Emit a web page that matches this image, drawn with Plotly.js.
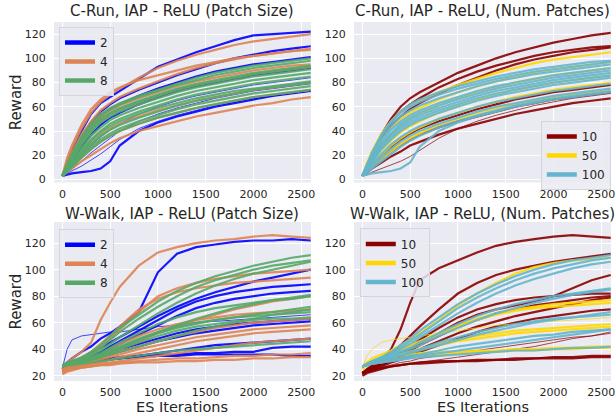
<!DOCTYPE html>
<html><head><meta charset="utf-8">
<script src="https://cdn.plot.ly/plotly-3.0.1.min.js"></script>
<style>html,body{margin:0;padding:0;background:#fff}#chart{width:616px;height:416px}</style>
</head><body><div id="chart"></div>
<script>
const iterations = [0,50,100,200,300,400,500,600,800,1000,1200,1400,1600,1800,2000,2200,2400,2600];

const panelTitles = ["C-Run, IAP - ReLU (Patch Size)", "C-Run, IAP - ReLU, (Num. Patches)",
                     "W-Walk, IAP - ReLU (Patch Size)", "W-Walk, IAP - ReLU, (Num. Patches)"];
const patchSizeLabels = ["2", "4", "8"];
const numPatchLabels = ["10", "50", "100"];
const yTickVals = [0, 20, 40, 60, 80, 100, 120];
const xTickVals = [0, 500, 1000, 1500, 2000, 2500];

// C-Run, patch size
const crunPS2 = [
 [3,14,24,40,54,63,68,73,83,93,99,105,110,115,119,120,121,122],
 [3,12,20,35,47,56,62,67,74,80,86,91,96,100,103,106,108,110],
 [3,11,19,33,44,52,58,62,69,75,80,85,89,92,95,97,99,101],
 [3,9,15,27,37,45,51,55,62,68,73,77,80,83,86,88,90,92],
 [3,4,5,6,7,9,15,28,40,47,52,56,60,63,66,69,71,73]];
const crunPS2Thin = [
 [3,5,7,11,16,21,27,33,42,48,53,57,61,64,67,69,71,73],
 [3,6,9,15,22,28,34,40,48,54,59,63,67,70,73,75,77,79],
 [3,7,12,20,28,35,41,46,54,60,65,69,72,75,78,80,82,84]];
const crunPS4 = [
 [3,16,26,42,55,64,70,75,84,92,98,103,107,111,114,116,118,120],
 [3,13,22,37,48,57,63,68,75,81,87,92,96,99,102,104,106,108],
 [3,18,28,45,58,66,72,76,82,86,90,94,97,100,102,104,106,107],
 [3,12,20,34,44,52,57,61,67,72,77,81,84,87,90,92,94,95],
 [3,10,17,30,40,48,54,58,64,69,74,78,81,84,87,89,91,93],
 [3,8,13,22,30,37,42,46,52,57,61,65,68,71,74,76,78,80],
 [3,7,11,18,25,31,36,40,46,51,55,59,62,65,68,70,72,74],
 [3,6,9,15,20,25,30,34,40,44,48,52,55,58,61,63,66,68]];
const crunPS8 = [
 [3,13,21,35,46,54,59,63,69,74,79,84,88,91,94,96,98,100],
 [3,12,20,34,45,53,58,62,68,73,78,82,86,89,92,94,96,98],
 [3,11,19,32,42,50,55,59,65,70,75,79,82,85,88,90,92,94],
 [3,11,18,31,41,49,54,58,64,69,74,78,81,84,87,89,91,93],
 [3,10,17,29,39,47,52,56,62,67,72,76,79,82,85,87,89,91],
 [3,9,15,26,36,43,49,53,59,64,69,73,76,79,82,84,86,88],
 [3,8,14,24,33,40,46,50,56,61,66,70,73,76,79,81,83,85],
 [3,8,13,23,32,39,44,48,54,59,63,67,70,73,75,77,79,81],
 [3,7,12,21,29,36,41,45,51,56,61,65,68,71,74,76,78,80],
 [3,7,11,19,27,33,38,42,48,53,58,62,65,68,71,73,75,77],
 [3,6,10,18,25,31,36,40,46,51,55,59,62,65,68,70,72,74]];

// C-Run, number of patches
const crunNP10 = [
 [3,13,22,37,50,60,67,72,80,88,94,100,105,109,113,116,119,121],
 [3,12,20,35,47,56,62,67,76,83,89,94,98,102,105,107,109,110],
 [3,12,19,33,44,52,58,63,71,78,84,90,95,99,102,105,107,109],
 [3,8,12,20,27,33,38,42,48,53,58,62,66,69,72,74,76,78],
 [3,7,10,17,23,28,33,37,43,48,52,56,60,63,66,68,70,72],
 [3,6,9,14,19,23,28,31,37,42,46,50,54,57,60,63,65,67]];
const crunNP10Thin = [
 [3,4,6,9,12,15,19,24,34,42,48,53,57,61,64,67,69,71]];
const crunNP50 = [
 [3,14,23,38,48,56,61,65,72,78,83,88,92,96,99,101,103,105],
 [3,12,19,32,42,50,55,59,66,72,77,81,85,88,91,93,95,97],
 [3,10,16,27,36,44,50,54,61,67,72,76,80,83,86,88,90,92],
 [3,9,14,24,32,39,44,48,55,61,66,70,74,77,80,82,84,86],
 [3,8,12,20,28,34,39,43,50,55,60,64,68,71,74,76,78,80],
 [3,7,10,17,23,29,34,38,45,50,55,59,62,65,68,70,72,74]];
const crunNP100 = [
 [3,13,22,37,48,56,62,66,72,77,81,85,88,91,93,95,97,98],
 [3,12,21,36,47,55,60,64,70,75,79,83,86,89,91,93,95,97],
 [3,12,20,34,44,52,57,61,67,72,77,81,84,87,89,91,93,95],
 [3,11,18,31,41,48,53,57,63,68,73,77,80,83,86,88,90,92],
 [3,11,17,29,38,46,51,55,61,66,71,75,78,81,84,86,88,90],
 [3,10,16,28,37,44,49,53,59,64,69,73,76,79,82,84,86,88],
 [3,10,15,26,35,42,47,51,57,62,67,71,74,77,80,82,84,86],
 [3,9,14,25,33,40,45,49,55,60,65,69,72,75,78,80,82,84],
 [3,8,12,21,29,35,40,44,50,55,60,64,67,70,73,75,77,79],
 [3,7,10,18,25,31,36,40,46,51,56,60,63,66,69,71,73,75],
 [3,6,9,15,21,27,32,36,43,48,53,57,61,64,67,69,71,73],
 [3,4,5,6,7,9,14,27,40,47,52,56,60,63,66,68,70,72]];

// W-Walk, patch size
const wwalkPS2 = [
 [25,30,33,38,42,48,52,57,68,98,112,117,119,121,122,122,123,122],
 [26,28,30,33,37,41,45,49,57,65,72,78,83,87,91,94,97,100],
 [26,28,30,32,35,38,42,46,54,62,70,76,80,83,85,87,88,89],
 [26,28,29,31,34,37,40,44,51,58,65,71,75,78,80,82,83,84],
 [26,28,29,31,33,35,37,40,44,48,52,55,57,59,60,61,62,63],
 [26,27,28,30,32,34,36,38,42,46,49,52,54,56,58,59,60,61],
 [26,27,28,29,30,31,32,33,35,37,39,41,43,44,45,46,47,48],
 [26,28,29,30,31,32,33,33,34,35,35,36,36,36,36,36,35,35],
 [26,28,29,30,31,32,33,34,35,36,36,37,37,38,38,41,42,42]];
const wwalkPS2Thin = [
 [26,40,47,50,51,52,53,53,55,57,58,60,61,62,63,64,65,66]];
const wwalkPS4 = [
 [25,30,33,38,45,62,75,87,103,113,117,120,122,123,125,126,125,124],
 [24,27,29,32,36,41,48,55,68,80,86,90,93,95,97,98,99,100],
 [24,27,29,33,38,44,50,57,70,78,83,86,88,90,91,92,93,94],
 [24,26,27,29,31,34,37,40,46,52,57,62,66,70,73,76,78,80],
 [24,26,28,30,33,36,40,44,50,55,59,62,64,66,67,68,69,70],
 [24,26,27,29,31,33,35,38,42,46,50,53,56,58,60,61,62,63],
 [23,25,26,28,30,32,34,36,40,43,46,49,51,53,55,56,57,58],
 [23,25,26,27,29,30,32,34,37,40,43,46,48,50,52,53,54,55],
 [22,24,25,27,28,29,30,31,33,35,37,39,41,43,45,46,47,48],
 [22,24,25,26,27,28,29,30,31,32,33,33,34,35,35,36,36,37],
 [21,23,24,26,27,28,28,29,30,30,31,31,32,32,33,33,34,34]];
const wwalkPS8 = [
 [28,30,31,34,38,43,50,56,66,76,84,90,95,99,103,106,109,111],
 [28,30,31,33,37,41,47,53,63,72,80,87,92,96,100,103,105,107],
 [28,29,30,32,35,39,44,49,58,67,75,82,88,93,97,100,103,106],
 [27,29,30,31,33,35,38,41,47,53,58,63,67,71,74,77,79,81],
 [27,29,30,32,34,37,41,45,52,59,64,68,71,73,75,77,78,80],
 [27,28,29,31,33,35,38,41,47,52,56,59,62,64,66,68,70,72],
 [27,28,29,30,32,34,36,38,42,46,50,54,57,60,63,66,68,70],
 [27,28,29,31,33,36,39,42,48,53,57,60,62,64,65,66,67,68],
 [27,28,29,30,32,34,37,40,45,50,54,57,59,61,62,63,63,64],
 [27,28,28,29,30,31,32,33,35,37,39,40,41,42,43,44,45,46]];

// W-Walk, number of patches
const wwalkNP10 = [
 [22,25,27,32,40,55,75,92,101,107,113,118,121,123,125,126,125,124],
 [22,25,28,32,37,43,50,57,70,82,90,96,100,103,106,108,110,112],
 [22,24,26,29,32,36,40,44,52,60,66,70,73,76,80,86,92,96],
 [22,24,26,29,33,37,42,47,56,64,70,74,77,79,80,81,82,82],
 [22,24,26,29,32,35,39,43,50,57,62,67,70,73,75,77,79,80],
 [22,24,25,28,31,34,37,40,46,52,57,61,65,68,71,74,77,79],
 [22,24,25,27,30,32,35,38,43,48,53,57,60,63,65,67,69,70],
 [21,23,24,26,27,28,29,30,31,31,32,32,33,33,34,34,35,35],
 [20,22,23,25,27,28,29,29,30,31,31,32,32,33,33,33,34,34]];
const wwalkNP10Thin = [
 [22,23,24,26,28,30,31,33,35,37,39,41,43,45,47,49,50,52],
 [22,23,24,25,27,28,29,30,32,34,36,38,40,42,45,48,50,53]];
const wwalkNP50 = [
 [26,30,33,36,39,43,47,52,62,73,82,90,97,102,105,107,108,109],
 [26,29,31,34,37,40,43,46,52,58,63,67,70,72,74,75,76,77],
 [26,28,30,33,36,39,42,45,51,57,62,66,69,71,72,73,74,75],
 [25,28,30,32,34,36,38,40,44,47,50,52,54,55,56,57,58,59],
 [26,28,30,32,34,36,38,40,43,46,48,50,52,53,54,55,56,57],
 [27,29,30,31,32,33,34,35,36,37,38,38,39,39,40,40,41,41],
 [27,30,31,33,34,35,36,37,38,38,39,39,40,40,41,41,42,42]];
const wwalkNP50Thin = [
 [26,35,40,45,47,48,49,50,52,54,56,58,59,60,61,62,63,64]];
const wwalkNP100 = [
 [27,29,31,34,38,43,48,54,64,74,82,89,95,100,104,107,109,111],
 [27,29,31,34,37,41,46,51,61,71,79,86,92,97,101,104,107,109],
 [27,29,30,33,36,40,44,49,58,67,75,82,88,93,97,101,104,106],
 [27,28,30,32,35,38,41,45,52,59,65,70,74,77,80,82,84,86],
 [27,28,30,32,34,37,40,43,50,56,62,67,71,75,78,81,83,85],
 [27,28,29,31,33,35,37,39,43,47,51,54,57,60,62,64,66,68],
 [27,28,29,31,33,35,38,40,45,49,53,56,59,61,63,64,65,66],
 [27,28,29,30,32,33,35,36,39,42,44,46,48,50,51,53,54,55],
 [27,28,29,30,31,32,34,35,37,39,41,43,45,47,49,51,53,55],
 [27,28,29,30,31,32,33,34,35,36,37,38,39,39,40,41,41,42]];

const C = {blue:"#0000FF", orange:"#DD8452", green:"#55A868",
           red:"#8B0000", gold:"#FFD700", cyan:"#64B5CD"};

const traces = [];
function addRuns(runs, color, width, ax, ay) {
  runs.forEach(r => traces.push({x: iterations, y: r, type: "scatter", mode: "lines",
    line: {color: color, width: width}, opacity: 0.9, showlegend: false,
    hoverinfo: "skip", xaxis: ax, yaxis: ay}));
}
function addLegend(name, color, ax, ay, leg) {
  traces.push({x: [null], y: [null], type: "scatter", mode: "lines", name: name,
    line: {color: color, width: 4.5}, showlegend: true, legend: leg, xaxis: ax, yaxis: ay});
}
const W = 2.2, WT = 0.8;
// Panel 1
addRuns(crunPS2, C.blue, W, "x", "y"); addRuns(crunPS2Thin, C.blue, WT, "x", "y");
addRuns(crunPS4, C.orange, W, "x", "y");
addRuns(crunPS8, C.green, W, "x", "y");
addLegend(patchSizeLabels[0], C.blue, "x", "y", "legend");
addLegend(patchSizeLabels[1], C.orange, "x", "y", "legend");
addLegend(patchSizeLabels[2], C.green, "x", "y", "legend");
// Panel 2
addRuns(crunNP10, C.red, W, "x2", "y2"); addRuns(crunNP10Thin, C.red, WT, "x2", "y2");
addRuns(crunNP50, C.gold, W, "x2", "y2");
addRuns(crunNP100, C.cyan, W, "x2", "y2");
addLegend(numPatchLabels[0], C.red, "x2", "y2", "legend2");
addLegend(numPatchLabels[1], C.gold, "x2", "y2", "legend2");
addLegend(numPatchLabels[2], C.cyan, "x2", "y2", "legend2");
// Panel 3
addRuns(wwalkPS2, C.blue, W, "x3", "y3"); addRuns(wwalkPS2Thin, C.blue, WT, "x3", "y3");
addRuns(wwalkPS4, C.orange, W, "x3", "y3");
addRuns(wwalkPS8, C.green, W, "x3", "y3");
addLegend(patchSizeLabels[0], C.blue, "x3", "y3", "legend3");
addLegend(patchSizeLabels[1], C.orange, "x3", "y3", "legend3");
addLegend(patchSizeLabels[2], C.green, "x3", "y3", "legend3");
// Panel 4
addRuns(wwalkNP10, C.red, W, "x4", "y4"); addRuns(wwalkNP10Thin, C.red, WT, "x4", "y4");
addRuns(wwalkNP50, C.gold, W, "x4", "y4"); addRuns(wwalkNP50Thin, C.gold, WT, "x4", "y4");
addRuns(wwalkNP100, C.cyan, W, "x4", "y4");
addLegend(numPatchLabels[0], C.red, "x4", "y4", "legend4");
addLegend(numPatchLabels[1], C.gold, "x4", "y4", "legend4");
addLegend(numPatchLabels[2], C.cyan, "x4", "y4", "legend4");

const FONT = "DejaVu Sans, sans-serif";
const TXT = "#262626";
const xDomL = [0, 0.4614], xDomR = [0.5386, 1];
const yDomT = [0.553, 1], yDomB = [0, 0.443];
function xa(dom, anchor) {
  return {domain: dom, anchor: anchor, range: [-88, 2603], tickvals: xTickVals,
    showgrid: true, gridcolor: "#ffffff", gridwidth: 1, zeroline: false, showline: false,
    ticks: "outside", ticklen: 1, tickcolor: "rgba(0,0,0,0)",
    tickfont: {family: FONT, size: 11, color: TXT}};
}
function ya(dom, anchor, range) {
  return {domain: dom, anchor: anchor, range: range, tickvals: yTickVals,
    showgrid: true, gridcolor: "#ffffff", gridwidth: 1, zeroline: false, showline: false,
    ticks: "outside", ticklen: 5, tickcolor: "rgba(0,0,0,0)",
    tickfont: {family: FONT, size: 11, color: TXT}};
}
function leg(x, y) {
  return {x: x, y: y, xanchor: "left", yanchor: "top", bgcolor: "rgba(234,234,242,0.85)",
    bordercolor: "#d4d4dc", borderwidth: 1, itemwidth: 30, tracegroupgap: 0,
    font: {family: FONT, size: 12, color: TXT}};
}
function title(text, x, y, shift) {
  return {text: text, xref: "paper", yref: "paper", x: x, y: y, xanchor: "center",
    yanchor: "bottom", yshift: shift, showarrow: false, font: {family: FONT, size: 15, color: TXT}};
}
function xTitle(x) {
  return {text: "ES Iterations", xref: "paper", yref: "paper", x: x, y: -0.0975, yanchor: "bottom",
    borderpad: 0, showarrow: false, xanchor: "center", font: {family: FONT, size: 14.5, color: TXT}};
}
const layout = {
  width: 616, height: 416, margin: {l: 54, r: 5, t: 22, b: 35},
  paper_bgcolor: "#ffffff", plot_bgcolor: "#EAEAF2",
  xaxis: xa(xDomL, "y"), yaxis: ya(yDomT, "x", [-2.5, 130]),
  xaxis2: xa(xDomR, "y2"), yaxis2: ya(yDomT, "x2", [-2.5, 130]),
  xaxis3: xa(xDomL, "y3"), yaxis3: ya(yDomB, "x3", [16, 136]),
  xaxis4: xa(xDomR, "y4"), yaxis4: ya(yDomB, "x4", [16, 136]),
  legend: leg(0.009, 0.986), legend2: leg(0.874, 0.724),
  legend3: leg(0.009, 0.423), legend4: leg(0.549, 0.425),
  annotations: [
    title(panelTitles[0], 0.2307, 1, 0), title(panelTitles[1], 0.7693, 1, 0),
    title(panelTitles[2], 0.2307, 0.443, -3), title(panelTitles[3], 0.7693, 0.443, -3),
    {text: "Reward", xref: "paper", yref: "paper", x: -0.068, y: 0.7765, textangle: -90,
     showarrow: false, xanchor: "center", yanchor: "middle", font: {family: FONT, size: 15, color: TXT}},
    {text: "Reward", xref: "paper", yref: "paper", x: -0.068, y: 0.2215, textangle: -90,
     showarrow: false, xanchor: "center", yanchor: "middle", font: {family: FONT, size: 15, color: TXT}},
    xTitle(0.2307), xTitle(0.7693)
  ]
};
Plotly.newPlot("chart", traces, layout, {staticPlot: true, displayModeBar: false});
</script></body></html>
